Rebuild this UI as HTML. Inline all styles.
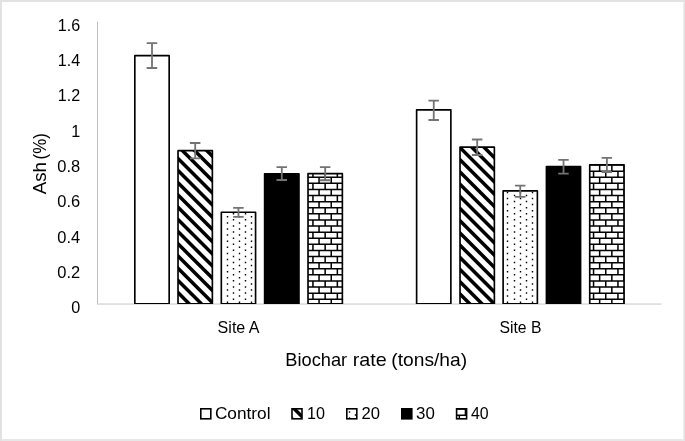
<!DOCTYPE html>
<html lang="en"><head><meta charset="utf-8"><title>Ash (%) by biochar rate</title>
<style>
html,body{margin:0;padding:0;background:#fff;}
body{width:685px;height:441px;overflow:hidden;}
svg{display:block;will-change:transform;}
text{font-family:"Liberation Sans",sans-serif;fill:#000;}
</style></head><body>
<svg width="685" height="441" viewBox="0 0 685 441">
<defs>
<clipPath id="plot"><rect x="90" y="0" width="580" height="304.05"/></clipPath><clipPath id="c1"><rect x="178.02" y="150.65" width="34.35" height="153.05"/></clipPath><clipPath id="c2"><rect x="308.02" y="173.65" width="34.35" height="130.05"/></clipPath><clipPath id="c3"><rect x="460.02" y="147.10" width="34.35" height="156.60"/></clipPath><clipPath id="c4"><rect x="589.73" y="164.70" width="34.35" height="139.00"/></clipPath><clipPath id="c5"><rect x="292.00" y="408.80" width="10.00" height="10.00"/></clipPath><clipPath id="c6"><rect x="456.60" y="408.80" width="10.00" height="10.00"/></clipPath>
</defs>
<rect x="0" y="0" width="685" height="441" fill="#fff"/>
<path d="M0 0H685V2H2V441H0Z" fill="#E2E2E2"/>
<path d="M683.3 2H685V441H683.3Z" fill="#E4E4E4"/>
<path d="M2 439H683.3V441H2Z" fill="#E7E7E7"/>
<rect x="97" y="21.7" width="1" height="282.50" fill="#BEBEBE"/>
<rect x="97" y="303.3" width="564.40" height="1.55" fill="#DADADA"/>
<g clip-path="url(#plot)">
<rect x="134.82" y="55.60" width="34.35" height="248.10" fill="#fff"/>
<rect x="134.82" y="55.60" width="34.35" height="248.10" fill="none" stroke="#000" stroke-width="1.65" stroke-linejoin="round"/>
<rect x="178.02" y="150.65" width="34.35" height="153.05" fill="#fff"/>
<path clip-path="url(#c1)" d="M174.02 93.42L216.37 135.77M174.02 105.62L216.37 147.97M174.02 117.82L216.37 160.17M174.02 130.02L216.37 172.37M174.02 142.22L216.37 184.57M174.02 154.42L216.37 196.77M174.02 166.62L216.37 208.97M174.02 178.82L216.37 221.17M174.02 191.02L216.37 233.37M174.02 203.22L216.37 245.57M174.02 215.42L216.37 257.77M174.02 227.62L216.37 269.97M174.02 239.82L216.37 282.17M174.02 252.02L216.37 294.37M174.02 264.22L216.37 306.57M174.02 276.42L216.37 318.77M174.02 288.62L216.37 330.97M174.02 300.82L216.37 343.17M174.02 313.02L216.37 355.38" stroke="#000" stroke-width="3.535" fill="none"/>
<rect x="178.02" y="150.65" width="34.35" height="153.05" fill="none" stroke="#000" stroke-width="1.65" stroke-linejoin="round"/>
<rect x="221.32" y="212.20" width="34.25" height="91.50" fill="#fff"/>
<path d="M226.8 216.05h1.4v1.50h-1.4zM226.8 222.15h1.4v1.50h-1.4zM226.8 228.25h1.4v1.50h-1.4zM226.8 234.35h1.4v1.50h-1.4zM226.8 240.45h1.4v1.50h-1.4zM226.8 246.55h1.4v1.50h-1.4zM226.8 252.65h1.4v1.50h-1.4zM226.8 258.75h1.4v1.50h-1.4zM226.8 264.85h1.4v1.50h-1.4zM226.8 270.95h1.4v1.50h-1.4zM226.8 277.05h1.4v1.50h-1.4zM226.8 283.15h1.4v1.50h-1.4zM226.8 289.25h1.4v1.50h-1.4zM226.8 295.35h1.4v1.50h-1.4zM226.8 301.45h1.4v1.50h-1.4zM238.8 216.05h1.4v1.50h-1.4zM238.8 222.15h1.4v1.50h-1.4zM238.8 228.25h1.4v1.50h-1.4zM238.8 234.35h1.4v1.50h-1.4zM238.8 240.45h1.4v1.50h-1.4zM238.8 246.55h1.4v1.50h-1.4zM238.8 252.65h1.4v1.50h-1.4zM238.8 258.75h1.4v1.50h-1.4zM238.8 264.85h1.4v1.50h-1.4zM238.8 270.95h1.4v1.50h-1.4zM238.8 277.05h1.4v1.50h-1.4zM238.8 283.15h1.4v1.50h-1.4zM238.8 289.25h1.4v1.50h-1.4zM238.8 295.35h1.4v1.50h-1.4zM238.8 301.45h1.4v1.50h-1.4zM250.8 216.05h1.4v1.50h-1.4zM250.8 222.15h1.4v1.50h-1.4zM250.8 228.25h1.4v1.50h-1.4zM250.8 234.35h1.4v1.50h-1.4zM250.8 240.45h1.4v1.50h-1.4zM250.8 246.55h1.4v1.50h-1.4zM250.8 252.65h1.4v1.50h-1.4zM250.8 258.75h1.4v1.50h-1.4zM250.8 264.85h1.4v1.50h-1.4zM250.8 270.95h1.4v1.50h-1.4zM250.8 277.05h1.4v1.50h-1.4zM250.8 283.15h1.4v1.50h-1.4zM250.8 289.25h1.4v1.50h-1.4zM250.8 295.35h1.4v1.50h-1.4zM250.8 301.45h1.4v1.50h-1.4zM232.8 213.00h1.4v1.50h-1.4zM232.8 219.10h1.4v1.50h-1.4zM232.8 225.20h1.4v1.50h-1.4zM232.8 231.30h1.4v1.50h-1.4zM232.8 237.40h1.4v1.50h-1.4zM232.8 243.50h1.4v1.50h-1.4zM232.8 249.60h1.4v1.50h-1.4zM232.8 255.70h1.4v1.50h-1.4zM232.8 261.80h1.4v1.50h-1.4zM232.8 267.90h1.4v1.50h-1.4zM232.8 274.00h1.4v1.50h-1.4zM232.8 280.10h1.4v1.50h-1.4zM232.8 286.20h1.4v1.50h-1.4zM232.8 292.30h1.4v1.50h-1.4zM232.8 298.40h1.4v1.50h-1.4zM244.8 213.00h1.4v1.50h-1.4zM244.8 219.10h1.4v1.50h-1.4zM244.8 225.20h1.4v1.50h-1.4zM244.8 231.30h1.4v1.50h-1.4zM244.8 237.40h1.4v1.50h-1.4zM244.8 243.50h1.4v1.50h-1.4zM244.8 249.60h1.4v1.50h-1.4zM244.8 255.70h1.4v1.50h-1.4zM244.8 261.80h1.4v1.50h-1.4zM244.8 267.90h1.4v1.50h-1.4zM244.8 274.00h1.4v1.50h-1.4zM244.8 280.10h1.4v1.50h-1.4zM244.8 286.20h1.4v1.50h-1.4zM244.8 292.30h1.4v1.50h-1.4zM244.8 298.40h1.4v1.50h-1.4z" fill="#000"/>
<rect x="221.32" y="212.20" width="34.25" height="91.50" fill="none" stroke="#000" stroke-width="1.65" stroke-linejoin="round"/>
<rect x="264.62" y="173.70" width="34.35" height="130.00" fill="#000"/>
<rect x="264.62" y="173.70" width="34.35" height="130.00" fill="none" stroke="#000" stroke-width="1.65" stroke-linejoin="round"/>
<rect x="308.02" y="173.65" width="34.35" height="130.05" fill="#fff"/>
<path clip-path="url(#c2)" d="M306.02 164.29h38.35v1.525h-38.35zM318.29 165.05h1.525v6.100h-1.525zM330.49 165.05h1.525v6.100h-1.525zM306.02 170.39h38.35v1.525h-38.35zM312.19 171.15h1.525v6.100h-1.525zM324.39 171.15h1.525v6.100h-1.525zM336.59 171.15h1.525v6.100h-1.525zM306.02 176.49h38.35v1.525h-38.35zM318.29 177.25h1.525v6.100h-1.525zM330.49 177.25h1.525v6.100h-1.525zM306.02 182.59h38.35v1.525h-38.35zM312.19 183.35h1.525v6.100h-1.525zM324.39 183.35h1.525v6.100h-1.525zM336.59 183.35h1.525v6.100h-1.525zM306.02 188.69h38.35v1.525h-38.35zM318.29 189.45h1.525v6.100h-1.525zM330.49 189.45h1.525v6.100h-1.525zM306.02 194.79h38.35v1.525h-38.35zM312.19 195.55h1.525v6.100h-1.525zM324.39 195.55h1.525v6.100h-1.525zM336.59 195.55h1.525v6.100h-1.525zM306.02 200.89h38.35v1.525h-38.35zM318.29 201.65h1.525v6.100h-1.525zM330.49 201.65h1.525v6.100h-1.525zM306.02 206.99h38.35v1.525h-38.35zM312.19 207.75h1.525v6.100h-1.525zM324.39 207.75h1.525v6.100h-1.525zM336.59 207.75h1.525v6.100h-1.525zM306.02 213.09h38.35v1.525h-38.35zM318.29 213.85h1.525v6.100h-1.525zM330.49 213.85h1.525v6.100h-1.525zM306.02 219.19h38.35v1.525h-38.35zM312.19 219.95h1.525v6.100h-1.525zM324.39 219.95h1.525v6.100h-1.525zM336.59 219.95h1.525v6.100h-1.525zM306.02 225.29h38.35v1.525h-38.35zM318.29 226.05h1.525v6.100h-1.525zM330.49 226.05h1.525v6.100h-1.525zM306.02 231.39h38.35v1.525h-38.35zM312.19 232.15h1.525v6.100h-1.525zM324.39 232.15h1.525v6.100h-1.525zM336.59 232.15h1.525v6.100h-1.525zM306.02 237.49h38.35v1.525h-38.35zM318.29 238.25h1.525v6.100h-1.525zM330.49 238.25h1.525v6.100h-1.525zM306.02 243.59h38.35v1.525h-38.35zM312.19 244.35h1.525v6.100h-1.525zM324.39 244.35h1.525v6.100h-1.525zM336.59 244.35h1.525v6.100h-1.525zM306.02 249.69h38.35v1.525h-38.35zM318.29 250.45h1.525v6.100h-1.525zM330.49 250.45h1.525v6.100h-1.525zM306.02 255.79h38.35v1.525h-38.35zM312.19 256.55h1.525v6.100h-1.525zM324.39 256.55h1.525v6.100h-1.525zM336.59 256.55h1.525v6.100h-1.525zM306.02 261.89h38.35v1.525h-38.35zM318.29 262.65h1.525v6.100h-1.525zM330.49 262.65h1.525v6.100h-1.525zM306.02 267.99h38.35v1.525h-38.35zM312.19 268.75h1.525v6.100h-1.525zM324.39 268.75h1.525v6.100h-1.525zM336.59 268.75h1.525v6.100h-1.525zM306.02 274.09h38.35v1.525h-38.35zM318.29 274.85h1.525v6.100h-1.525zM330.49 274.85h1.525v6.100h-1.525zM306.02 280.19h38.35v1.525h-38.35zM312.19 280.95h1.525v6.100h-1.525zM324.39 280.95h1.525v6.100h-1.525zM336.59 280.95h1.525v6.100h-1.525zM306.02 286.29h38.35v1.525h-38.35zM318.29 287.05h1.525v6.100h-1.525zM330.49 287.05h1.525v6.100h-1.525zM306.02 292.39h38.35v1.525h-38.35zM312.19 293.15h1.525v6.100h-1.525zM324.39 293.15h1.525v6.100h-1.525zM336.59 293.15h1.525v6.100h-1.525zM306.02 298.49h38.35v1.525h-38.35zM318.29 299.25h1.525v6.100h-1.525zM330.49 299.25h1.525v6.100h-1.525zM306.02 304.59h38.35v1.525h-38.35zM312.19 305.35h1.525v6.100h-1.525zM324.39 305.35h1.525v6.100h-1.525zM336.59 305.35h1.525v6.100h-1.525zM306.02 310.69h38.35v1.525h-38.35zM318.29 311.45h1.525v6.100h-1.525zM330.49 311.45h1.525v6.100h-1.525z" fill="#000"/>
<rect x="308.02" y="173.65" width="34.35" height="130.05" fill="none" stroke="#000" stroke-width="1.65" stroke-linejoin="round"/>
<rect x="416.62" y="109.90" width="34.25" height="193.80" fill="#fff"/>
<rect x="416.62" y="109.90" width="34.25" height="193.80" fill="none" stroke="#000" stroke-width="1.65" stroke-linejoin="round"/>
<rect x="460.02" y="147.10" width="34.35" height="156.60" fill="#fff"/>
<path clip-path="url(#c3)" d="M456.02 94.82L498.38 137.18M456.02 107.03L498.38 149.38M456.02 119.23L498.38 161.58M456.02 131.43L498.38 173.78M456.02 143.62L498.38 185.98M456.02 155.82L498.38 198.18M456.02 168.03L498.38 210.38M456.02 180.23L498.38 222.58M456.02 192.43L498.38 234.78M456.02 204.62L498.38 246.98M456.02 216.82L498.38 259.18M456.02 229.03L498.38 271.38M456.02 241.22L498.38 283.58M456.02 253.43L498.38 295.78M456.02 265.62L498.38 307.98M456.02 277.82L498.38 320.18M456.02 290.02L498.38 332.38M456.02 302.23L498.38 344.58M456.02 314.43L498.38 356.78" stroke="#000" stroke-width="3.535" fill="none"/>
<rect x="460.02" y="147.10" width="34.35" height="156.60" fill="none" stroke="#000" stroke-width="1.65" stroke-linejoin="round"/>
<rect x="503.12" y="190.90" width="34.25" height="112.80" fill="#fff"/>
<path d="M506.8 191.65h1.4v1.50h-1.4zM506.8 197.75h1.4v1.50h-1.4zM506.8 203.85h1.4v1.50h-1.4zM506.8 209.95h1.4v1.50h-1.4zM506.8 216.05h1.4v1.50h-1.4zM506.8 222.15h1.4v1.50h-1.4zM506.8 228.25h1.4v1.50h-1.4zM506.8 234.35h1.4v1.50h-1.4zM506.8 240.45h1.4v1.50h-1.4zM506.8 246.55h1.4v1.50h-1.4zM506.8 252.65h1.4v1.50h-1.4zM506.8 258.75h1.4v1.50h-1.4zM506.8 264.85h1.4v1.50h-1.4zM506.8 270.95h1.4v1.50h-1.4zM506.8 277.05h1.4v1.50h-1.4zM506.8 283.15h1.4v1.50h-1.4zM506.8 289.25h1.4v1.50h-1.4zM506.8 295.35h1.4v1.50h-1.4zM506.8 301.45h1.4v1.50h-1.4zM519.8 191.65h1.4v1.50h-1.4zM519.8 197.75h1.4v1.50h-1.4zM519.8 203.85h1.4v1.50h-1.4zM519.8 209.95h1.4v1.50h-1.4zM519.8 216.05h1.4v1.50h-1.4zM519.8 222.15h1.4v1.50h-1.4zM519.8 228.25h1.4v1.50h-1.4zM519.8 234.35h1.4v1.50h-1.4zM519.8 240.45h1.4v1.50h-1.4zM519.8 246.55h1.4v1.50h-1.4zM519.8 252.65h1.4v1.50h-1.4zM519.8 258.75h1.4v1.50h-1.4zM519.8 264.85h1.4v1.50h-1.4zM519.8 270.95h1.4v1.50h-1.4zM519.8 277.05h1.4v1.50h-1.4zM519.8 283.15h1.4v1.50h-1.4zM519.8 289.25h1.4v1.50h-1.4zM519.8 295.35h1.4v1.50h-1.4zM519.8 301.45h1.4v1.50h-1.4zM531.8 191.65h1.4v1.50h-1.4zM531.8 197.75h1.4v1.50h-1.4zM531.8 203.85h1.4v1.50h-1.4zM531.8 209.95h1.4v1.50h-1.4zM531.8 216.05h1.4v1.50h-1.4zM531.8 222.15h1.4v1.50h-1.4zM531.8 228.25h1.4v1.50h-1.4zM531.8 234.35h1.4v1.50h-1.4zM531.8 240.45h1.4v1.50h-1.4zM531.8 246.55h1.4v1.50h-1.4zM531.8 252.65h1.4v1.50h-1.4zM531.8 258.75h1.4v1.50h-1.4zM531.8 264.85h1.4v1.50h-1.4zM531.8 270.95h1.4v1.50h-1.4zM531.8 277.05h1.4v1.50h-1.4zM531.8 283.15h1.4v1.50h-1.4zM531.8 289.25h1.4v1.50h-1.4zM531.8 295.35h1.4v1.50h-1.4zM531.8 301.45h1.4v1.50h-1.4zM513.8 194.70h1.4v1.50h-1.4zM513.8 200.80h1.4v1.50h-1.4zM513.8 206.90h1.4v1.50h-1.4zM513.8 213.00h1.4v1.50h-1.4zM513.8 219.10h1.4v1.50h-1.4zM513.8 225.20h1.4v1.50h-1.4zM513.8 231.30h1.4v1.50h-1.4zM513.8 237.40h1.4v1.50h-1.4zM513.8 243.50h1.4v1.50h-1.4zM513.8 249.60h1.4v1.50h-1.4zM513.8 255.70h1.4v1.50h-1.4zM513.8 261.80h1.4v1.50h-1.4zM513.8 267.90h1.4v1.50h-1.4zM513.8 274.00h1.4v1.50h-1.4zM513.8 280.10h1.4v1.50h-1.4zM513.8 286.20h1.4v1.50h-1.4zM513.8 292.30h1.4v1.50h-1.4zM513.8 298.40h1.4v1.50h-1.4zM525.8 194.70h1.4v1.50h-1.4zM525.8 200.80h1.4v1.50h-1.4zM525.8 206.90h1.4v1.50h-1.4zM525.8 213.00h1.4v1.50h-1.4zM525.8 219.10h1.4v1.50h-1.4zM525.8 225.20h1.4v1.50h-1.4zM525.8 231.30h1.4v1.50h-1.4zM525.8 237.40h1.4v1.50h-1.4zM525.8 243.50h1.4v1.50h-1.4zM525.8 249.60h1.4v1.50h-1.4zM525.8 255.70h1.4v1.50h-1.4zM525.8 261.80h1.4v1.50h-1.4zM525.8 267.90h1.4v1.50h-1.4zM525.8 274.00h1.4v1.50h-1.4zM525.8 280.10h1.4v1.50h-1.4zM525.8 286.20h1.4v1.50h-1.4zM525.8 292.30h1.4v1.50h-1.4zM525.8 298.40h1.4v1.50h-1.4z" fill="#000"/>
<rect x="503.12" y="190.90" width="34.25" height="112.80" fill="none" stroke="#000" stroke-width="1.65" stroke-linejoin="round"/>
<rect x="546.43" y="166.60" width="34.15" height="137.10" fill="#000"/>
<rect x="546.43" y="166.60" width="34.15" height="137.10" fill="none" stroke="#000" stroke-width="1.65" stroke-linejoin="round"/>
<rect x="589.73" y="164.70" width="34.35" height="139.00" fill="#fff"/>
<path clip-path="url(#c4)" d="M587.73 152.09h38.35v1.525h-38.35zM598.89 152.85h1.525v6.100h-1.525zM611.09 152.85h1.525v6.100h-1.525zM623.29 152.85h1.525v6.100h-1.525zM587.73 158.19h38.35v1.525h-38.35zM592.79 158.95h1.525v6.100h-1.525zM604.99 158.95h1.525v6.100h-1.525zM617.19 158.95h1.525v6.100h-1.525zM587.73 164.29h38.35v1.525h-38.35zM598.89 165.05h1.525v6.100h-1.525zM611.09 165.05h1.525v6.100h-1.525zM623.29 165.05h1.525v6.100h-1.525zM587.73 170.39h38.35v1.525h-38.35zM592.79 171.15h1.525v6.100h-1.525zM604.99 171.15h1.525v6.100h-1.525zM617.19 171.15h1.525v6.100h-1.525zM587.73 176.49h38.35v1.525h-38.35zM598.89 177.25h1.525v6.100h-1.525zM611.09 177.25h1.525v6.100h-1.525zM623.29 177.25h1.525v6.100h-1.525zM587.73 182.59h38.35v1.525h-38.35zM592.79 183.35h1.525v6.100h-1.525zM604.99 183.35h1.525v6.100h-1.525zM617.19 183.35h1.525v6.100h-1.525zM587.73 188.69h38.35v1.525h-38.35zM598.89 189.45h1.525v6.100h-1.525zM611.09 189.45h1.525v6.100h-1.525zM623.29 189.45h1.525v6.100h-1.525zM587.73 194.79h38.35v1.525h-38.35zM592.79 195.55h1.525v6.100h-1.525zM604.99 195.55h1.525v6.100h-1.525zM617.19 195.55h1.525v6.100h-1.525zM587.73 200.89h38.35v1.525h-38.35zM598.89 201.65h1.525v6.100h-1.525zM611.09 201.65h1.525v6.100h-1.525zM623.29 201.65h1.525v6.100h-1.525zM587.73 206.99h38.35v1.525h-38.35zM592.79 207.75h1.525v6.100h-1.525zM604.99 207.75h1.525v6.100h-1.525zM617.19 207.75h1.525v6.100h-1.525zM587.73 213.09h38.35v1.525h-38.35zM598.89 213.85h1.525v6.100h-1.525zM611.09 213.85h1.525v6.100h-1.525zM623.29 213.85h1.525v6.100h-1.525zM587.73 219.19h38.35v1.525h-38.35zM592.79 219.95h1.525v6.100h-1.525zM604.99 219.95h1.525v6.100h-1.525zM617.19 219.95h1.525v6.100h-1.525zM587.73 225.29h38.35v1.525h-38.35zM598.89 226.05h1.525v6.100h-1.525zM611.09 226.05h1.525v6.100h-1.525zM623.29 226.05h1.525v6.100h-1.525zM587.73 231.39h38.35v1.525h-38.35zM592.79 232.15h1.525v6.100h-1.525zM604.99 232.15h1.525v6.100h-1.525zM617.19 232.15h1.525v6.100h-1.525zM587.73 237.49h38.35v1.525h-38.35zM598.89 238.25h1.525v6.100h-1.525zM611.09 238.25h1.525v6.100h-1.525zM623.29 238.25h1.525v6.100h-1.525zM587.73 243.59h38.35v1.525h-38.35zM592.79 244.35h1.525v6.100h-1.525zM604.99 244.35h1.525v6.100h-1.525zM617.19 244.35h1.525v6.100h-1.525zM587.73 249.69h38.35v1.525h-38.35zM598.89 250.45h1.525v6.100h-1.525zM611.09 250.45h1.525v6.100h-1.525zM623.29 250.45h1.525v6.100h-1.525zM587.73 255.79h38.35v1.525h-38.35zM592.79 256.55h1.525v6.100h-1.525zM604.99 256.55h1.525v6.100h-1.525zM617.19 256.55h1.525v6.100h-1.525zM587.73 261.89h38.35v1.525h-38.35zM598.89 262.65h1.525v6.100h-1.525zM611.09 262.65h1.525v6.100h-1.525zM623.29 262.65h1.525v6.100h-1.525zM587.73 267.99h38.35v1.525h-38.35zM592.79 268.75h1.525v6.100h-1.525zM604.99 268.75h1.525v6.100h-1.525zM617.19 268.75h1.525v6.100h-1.525zM587.73 274.09h38.35v1.525h-38.35zM598.89 274.85h1.525v6.100h-1.525zM611.09 274.85h1.525v6.100h-1.525zM623.29 274.85h1.525v6.100h-1.525zM587.73 280.19h38.35v1.525h-38.35zM592.79 280.95h1.525v6.100h-1.525zM604.99 280.95h1.525v6.100h-1.525zM617.19 280.95h1.525v6.100h-1.525zM587.73 286.29h38.35v1.525h-38.35zM598.89 287.05h1.525v6.100h-1.525zM611.09 287.05h1.525v6.100h-1.525zM623.29 287.05h1.525v6.100h-1.525zM587.73 292.39h38.35v1.525h-38.35zM592.79 293.15h1.525v6.100h-1.525zM604.99 293.15h1.525v6.100h-1.525zM617.19 293.15h1.525v6.100h-1.525zM587.73 298.49h38.35v1.525h-38.35zM598.89 299.25h1.525v6.100h-1.525zM611.09 299.25h1.525v6.100h-1.525zM623.29 299.25h1.525v6.100h-1.525zM587.73 304.59h38.35v1.525h-38.35zM592.79 305.35h1.525v6.100h-1.525zM604.99 305.35h1.525v6.100h-1.525zM617.19 305.35h1.525v6.100h-1.525zM587.73 310.69h38.35v1.525h-38.35zM598.89 311.45h1.525v6.100h-1.525zM611.09 311.45h1.525v6.100h-1.525zM623.29 311.45h1.525v6.100h-1.525z" fill="#000"/>
<rect x="589.73" y="164.70" width="34.35" height="139.00" fill="none" stroke="#000" stroke-width="1.65" stroke-linejoin="round"/>
</g>
<path d="M152.00 43.20 V68.00 M146.70 43.20 h10.5 M146.70 68.00 h10.5" fill="none" stroke="#737373" stroke-width="1.8"/>
<path d="M195.20 143.00 V158.30 M189.90 143.00 h10.5 M189.90 158.30 h10.5" fill="none" stroke="#737373" stroke-width="1.8"/>
<path d="M238.45 207.90 V216.90 M233.15 207.90 h10.5 M233.15 216.90 h10.5" fill="none" stroke="#737373" stroke-width="1.8"/>
<path d="M281.80 167.20 V180.00 M276.50 167.20 h10.5 M276.50 180.00 h10.5" fill="none" stroke="#737373" stroke-width="1.8"/>
<path d="M325.20 167.05 V180.25 M319.90 167.05 h10.5 M319.90 180.25 h10.5" fill="none" stroke="#737373" stroke-width="1.8"/>
<path d="M433.75 100.60 V120.00 M428.45 100.60 h10.5 M428.45 120.00 h10.5" fill="none" stroke="#737373" stroke-width="1.8"/>
<path d="M477.20 139.50 V155.00 M471.90 139.50 h10.5 M471.90 155.00 h10.5" fill="none" stroke="#737373" stroke-width="1.8"/>
<path d="M520.25 185.60 V196.80 M514.95 185.60 h10.5 M514.95 196.80 h10.5" fill="none" stroke="#737373" stroke-width="1.8"/>
<path d="M563.50 159.95 V173.65 M558.20 159.95 h10.5 M558.20 173.65 h10.5" fill="none" stroke="#737373" stroke-width="1.8"/>
<path d="M606.90 157.90 V172.00 M601.60 157.90 h10.5 M601.60 172.00 h10.5" fill="none" stroke="#737373" stroke-width="1.8"/>
<text x="80.2" y="313.20" font-size="16.6" text-anchor="end" textLength="9.0" lengthAdjust="spacingAndGlyphs">0</text>
<text x="80.2" y="277.90" font-size="16.6" text-anchor="end" textLength="22.9" lengthAdjust="spacingAndGlyphs">0.2</text>
<text x="80.2" y="242.60" font-size="16.6" text-anchor="end" textLength="22.9" lengthAdjust="spacingAndGlyphs">0.4</text>
<text x="80.2" y="207.30" font-size="16.6" text-anchor="end" textLength="22.9" lengthAdjust="spacingAndGlyphs">0.6</text>
<text x="80.2" y="172.00" font-size="16.6" text-anchor="end" textLength="22.9" lengthAdjust="spacingAndGlyphs">0.8</text>
<text x="80.2" y="136.70" font-size="16.6" text-anchor="end" textLength="9.0" lengthAdjust="spacingAndGlyphs">1</text>
<text x="80.2" y="101.40" font-size="16.6" text-anchor="end" textLength="22.4" lengthAdjust="spacingAndGlyphs">1.2</text>
<text x="80.2" y="66.10" font-size="16.6" text-anchor="end" textLength="22.4" lengthAdjust="spacingAndGlyphs">1.4</text>
<text x="80.2" y="30.80" font-size="16.6" text-anchor="end" textLength="22.4" lengthAdjust="spacingAndGlyphs">1.6</text>
<text x="238.6" y="333" font-size="16.6" text-anchor="middle" textLength="42" lengthAdjust="spacingAndGlyphs">Site A</text>
<text x="520.4" y="333" font-size="16.6" text-anchor="middle" textLength="42" lengthAdjust="spacingAndGlyphs">Site B</text>
<text y="365.6" font-size="18.4"><tspan x="285.3" textLength="61.8" lengthAdjust="spacingAndGlyphs">Biochar</tspan> <tspan x="352.8" textLength="34.0" lengthAdjust="spacingAndGlyphs">rate</tspan> <tspan x="391.3" textLength="75.8" lengthAdjust="spacingAndGlyphs">(tons/ha)</tspan></text>
<text transform="translate(46.4 163) rotate(-90)" font-size="18.4"><tspan x="-31.3" textLength="32.2" lengthAdjust="spacingAndGlyphs">Ash</tspan> <tspan x="3.6" textLength="26.2" lengthAdjust="spacingAndGlyphs">(%)</tspan></text>
<rect x="200.80" y="408.8" width="10" height="10" fill="#fff"/>
<rect x="200.80" y="408.8" width="10" height="10" fill="none" stroke="#000" stroke-width="1.6"/>
<text x="214.9" y="419" font-size="16.6" textLength="55.6" lengthAdjust="spacingAndGlyphs">Control</text>
<rect x="292.00" y="408.8" width="10" height="10" fill="#fff"/>
<path clip-path="url(#c5)" d="M288.00 378.20L306.00 396.20M288.00 390.40L306.00 408.40M288.00 402.60L306.00 420.60M288.00 414.80L306.00 432.80M288.00 427.00L306.00 445.00M288.00 439.20L306.00 457.20" stroke="#000" stroke-width="3.535" fill="none"/>
<rect x="292.00" y="408.8" width="10" height="10" fill="none" stroke="#000" stroke-width="1.6"/>
<text x="306.9" y="419" font-size="16.6" textLength="18.0" lengthAdjust="spacingAndGlyphs">10</text>
<rect x="346.80" y="408.8" width="10" height="10" fill="#fff"/>
<path d="M348.8 411.25h1.4v1.50h-1.4zM348.8 417.35h1.4v0.75h-1.4zM354.8 414.30h1.4v1.50h-1.4z" fill="#000"/>
<rect x="346.80" y="408.8" width="10" height="10" fill="none" stroke="#000" stroke-width="1.6"/>
<text x="361.4" y="419" font-size="16.6" textLength="18.5" lengthAdjust="spacingAndGlyphs">20</text>
<rect x="401.80" y="408.8" width="10" height="10" fill="#000"/>
<rect x="401.80" y="408.8" width="10" height="10" fill="none" stroke="#000" stroke-width="1.6"/>
<text x="416.1" y="419" font-size="16.6" textLength="18.8" lengthAdjust="spacingAndGlyphs">30</text>
<rect x="456.60" y="408.8" width="10" height="10" fill="#fff"/>
<path clip-path="url(#c6)" d="M454.60 396.09h14.00v1.525h-14.00zM464.69 396.85h1.525v6.100h-1.525zM454.60 402.19h14.00v1.525h-14.00zM458.59 402.95h1.525v6.100h-1.525zM454.60 408.29h14.00v1.525h-14.00zM464.69 409.05h1.525v6.100h-1.525zM454.60 414.39h14.00v1.525h-14.00zM458.59 415.15h1.525v6.100h-1.525zM454.60 420.49h14.00v1.525h-14.00zM464.69 421.25h1.525v6.100h-1.525zM454.60 426.59h14.00v1.525h-14.00zM458.59 427.35h1.525v6.100h-1.525z" fill="#000"/>
<rect x="456.60" y="408.8" width="10" height="10" fill="none" stroke="#000" stroke-width="1.6"/>
<text x="471.0" y="419" font-size="16.6" textLength="17.7" lengthAdjust="spacingAndGlyphs">40</text>
</svg></body></html>
